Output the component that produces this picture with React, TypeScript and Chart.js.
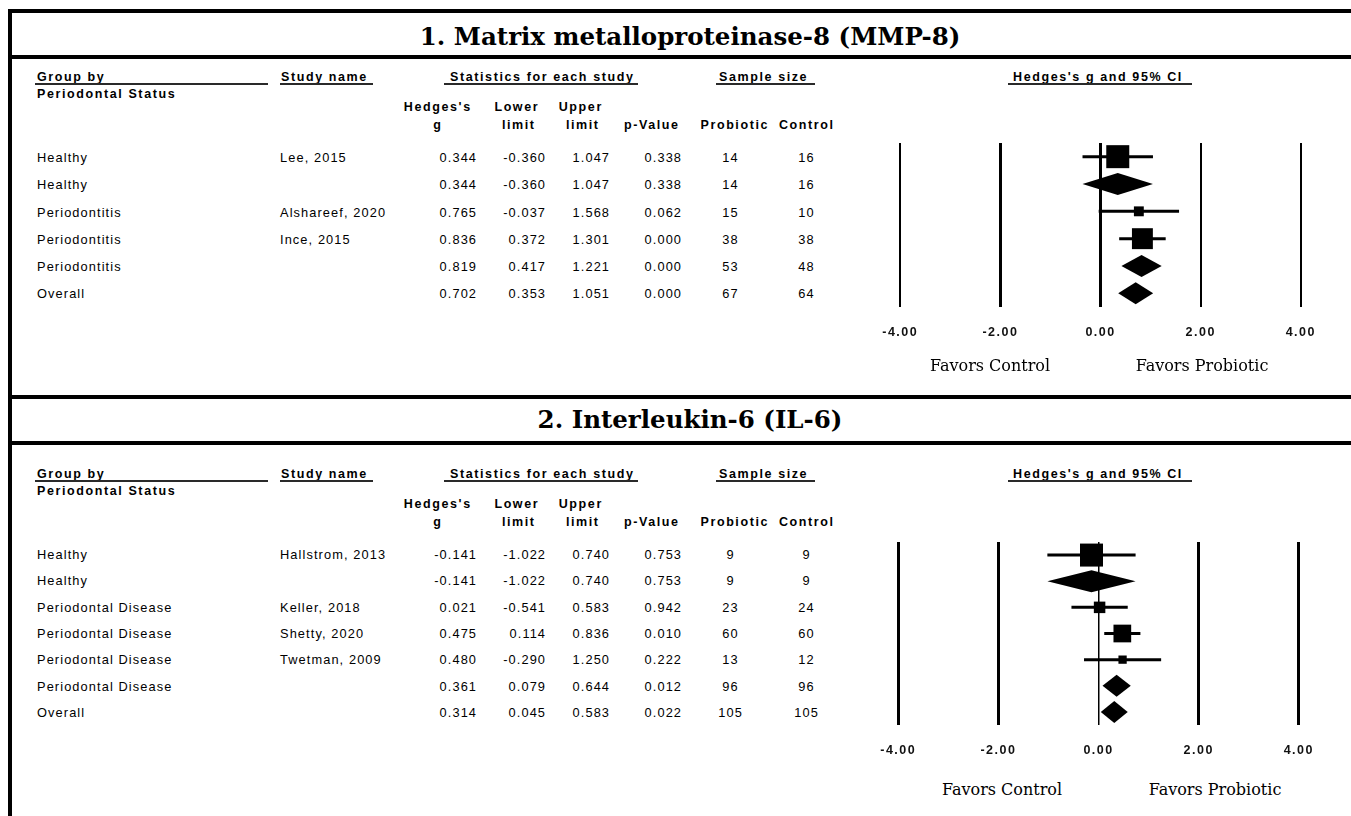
import React, { useEffect, useRef } from "react";
import { Chart, registerables } from "chart.js";

Chart.register(...registerables);

// ---------- Panel 1: MMP-8 ----------
const mmpTitle = "1. Matrix metalloproteinase-8 (MMP-8)";
const mmpGroup = ["Healthy", "Healthy", "Periodontitis", "Periodontitis", "Periodontitis", "Overall"];
const mmpStudy = ["Lee, 2015", "", "Alshareef, 2020", "Ince, 2015", "", ""];
const mmpG = [0.344, 0.344, 0.765, 0.836, 0.819, 0.702];
const mmpLower = [-0.36, -0.36, -0.037, 0.372, 0.417, 0.353];
const mmpUpper = [1.047, 1.047, 1.568, 1.301, 1.221, 1.051];
const mmpP = [0.338, 0.338, 0.062, 0.0, 0.0, 0.0];
const mmpProbiotic = [14, 14, 15, 38, 53, 67];
const mmpControl = [16, 16, 10, 38, 48, 64];
const mmpSummary = [false, true, false, false, true, true];
const mmpWeight = [1.0, 0, 0.43, 0.91, 0, 0];

// ---------- Panel 2: IL-6 ----------
const il6Title = "2. Interleukin-6 (IL-6)";
const il6Group = ["Healthy", "Healthy", "Periodontal Disease", "Periodontal Disease", "Periodontal Disease", "Periodontal Disease", "Overall"];
const il6Study = ["Hallstrom, 2013", "", "Keller, 2018", "Shetty, 2020", "Twetman, 2009", "", ""];
const il6G = [-0.141, -0.141, 0.021, 0.475, 0.48, 0.361, 0.314];
const il6Lower = [-1.022, -1.022, -0.541, 0.114, -0.29, 0.079, 0.045];
const il6Upper = [0.74, 0.74, 0.583, 0.836, 1.25, 0.644, 0.583];
const il6P = [0.753, 0.753, 0.942, 0.01, 0.222, 0.012, 0.022];
const il6Probiotic = [9, 9, 23, 60, 13, 96, 105];
const il6Control = [9, 9, 24, 60, 12, 96, 105];
const il6Summary = [false, true, false, false, false, true, true];
const il6Weight = [1.0, 0, 0.5, 0.77, 0.36, 0, 0];

// ---------- shared labels ----------
const axisMin = -4;
const axisMax = 4;
const axisStep = 2;
const favorsLeft = "Favors Control";
const favorsRight = "Favors Probiotic";

const SANS = '"Liberation Sans", Arial, Helvetica, sans-serif';
const SERIF = '"DejaVu Serif", "Liberation Serif", serif';

type TProps = {
  x: number;
  y: number;
  align?: "left" | "right" | "center";
  bold?: boolean;
  children: React.ReactNode;
};

function T({ x, y, align = "left", bold = false, children }: TProps) {
  const size = bold ? 12.5 : 12.8;
  const ls = bold ? 1.6 : 1.1;
  const style: React.CSSProperties = {
    position: "absolute",
    top: y - 7,
    lineHeight: "14px",
    height: 14,
    whiteSpace: "nowrap",
    fontFamily: SANS,
    fontSize: size,
    fontWeight: bold ? 700 : 400,
    letterSpacing: ls + "px",
    color: "#000",
  };
  if (align === "left") style.left = x;
  else if (align === "right") {
    style.left = x - 300 + ls;
    style.width = 300;
    style.textAlign = "right";
  } else {
    style.left = x - 150 + ls / 2;
    style.width = 300;
    style.textAlign = "center";
  }
  return <div style={style}>{children}</div>;
}

function HLine({ x1, x2, y, h, color = "#000" }: { x1: number; x2: number; y: number; h: number; color?: string }) {
  return <div style={{ position: "absolute", left: x1, top: y, width: x2 - x1, height: h, background: color }} />;
}

type ForestProps = {
  g: number[];
  lower: number[];
  upper: number[];
  summary: boolean[];
  weight: number[];
  left: number;
  areaTop: number;
  areaBottom: number;
  lineWidths: number[];
};

function Forest({ g, lower, upper, summary, weight, left, areaTop, areaBottom, lineWidths }: ForestProps) {
  const ref = useRef<HTMLCanvasElement | null>(null);
  const padTop = 10;
  const padSide = 30;
  const tickPad = 18;
  const axisFont = 12.5;
  // Chart.js reserves the tick padding twice for a horizontal axis
  const axisH = 2 * tickPad + axisFont * 1.2;
  const padBottom = 3;
  const height = Math.round(padTop + (areaBottom - areaTop) + axisH + padBottom);
  const width = 403 + 2 * padSide;

  useEffect(() => {
    if (!ref.current) return;
    const n = g.length;
    const studyIdx = g.map((_, i) => i).filter((i) => !summary[i]);
    const maxBox = 23;

    const forestPlugin = {
      id: "forest",
      beforeDraw(chart: any) {
        chart.ctx.letterSpacing = "1.5px";
      },
      beforeDatasetsDraw(chart: any) {
        const { ctx, scales } = chart;
        const xs = scales.x;
        const ys = scales.y;
        ctx.save();
        ctx.strokeStyle = "#000";
        ctx.lineWidth = 3;
        studyIdx.forEach((i) => {
          const y = ys.getPixelForValue(i + 1);
          ctx.beginPath();
          ctx.moveTo(xs.getPixelForValue(lower[i]), y);
          ctx.lineTo(xs.getPixelForValue(upper[i]), y);
          ctx.stroke();
        });
        ctx.restore();
      },
      afterDatasetsDraw(chart: any) {
        const { ctx, scales } = chart;
        const xs = scales.x;
        const ys = scales.y;
        ctx.save();
        ctx.fillStyle = "#000";
        g.forEach((v, i) => {
          if (!summary[i]) return;
          const y = ys.getPixelForValue(i + 1);
          const h = 11;
          ctx.beginPath();
          ctx.moveTo(xs.getPixelForValue(lower[i]), y);
          ctx.lineTo(xs.getPixelForValue(v), y - h);
          ctx.lineTo(xs.getPixelForValue(upper[i]), y);
          ctx.lineTo(xs.getPixelForValue(v), y + h);
          ctx.closePath();
          ctx.fill();
        });
        ctx.restore();
      },
    };

    const chart = new Chart(ref.current, {
      type: "scatter",
      data: {
        datasets: [
          {
            data: studyIdx.map((i) => ({ x: g[i], y: i + 1 })),
            pointStyle: "rect",
            pointRadius: studyIdx.map((i) => (maxBox * weight[i]) / (2 * Math.SQRT1_2)),
            pointHoverRadius: studyIdx.map((i) => (maxBox * weight[i]) / (2 * Math.SQRT1_2)),
            backgroundColor: "#000",
            borderWidth: 0,
            clip: false,
          },
        ],
      },
      options: {
        animation: false,
        responsive: false,
        events: [],
        layout: { autoPadding: false, padding: { top: padTop, left: padSide, right: padSide, bottom: padBottom } },
        plugins: { legend: { display: false }, tooltip: { enabled: false } },
        scales: {
          x: {
            type: "linear",
            min: axisMin,
            max: axisMax,
            border: { display: false },
            grid: {
              drawTicks: false,
              color: "#000",
              lineWidth: (c: any) => lineWidths[c.index] ?? 2,
            },
            ticks: {
              stepSize: axisStep,
              padding: tickPad,
              color: "#111",
              font: { family: SANS, size: axisFont, weight: "bold" },
              callback: (v: any) => Number(v).toFixed(2),
            },
          },
          y: {
            type: "linear",
            display: false,
            reverse: true,
            min: 0.5,
            max: n + 0.5,
          },
        },
      },
      plugins: [forestPlugin],
    } as any);
    return () => chart.destroy();
  }, []);

  return (
    <canvas
      ref={ref}
      width={width}
      height={height}
      style={{ position: "absolute", left: left - padSide, top: areaTop - padTop, width, height }}
    />
  );
}

type PanelProps = {
  off: number;
  rowTop: number;
  rowStep: number;
  group: string[];
  study: string[];
  g: number[];
  lower: number[];
  upper: number[];
  p: number[];
  probiotic: number[];
  control: number[];
};

function TablePanel({ off, rowTop, rowStep, group, study, g, lower, upper, p, probiotic, control }: PanelProps) {
  const ul = "#2a2a2a";
  return (
    <>
      <T x={37} y={76.5 + off} bold>Group by</T>
      <HLine x1={35} x2={268} y={83 + off} h={2} color={ul} />
      <T x={37} y={94 + off} bold>Periodontal Status</T>
      <T x={281} y={76.5 + off} bold>Study name</T>
      <HLine x1={280} x2={373} y={83 + off} h={2} color={ul} />
      <T x={450} y={76.5 + off} bold>Statistics for each study</T>
      <HLine x1={444} x2={638} y={83 + off} h={2} color={ul} />
      <T x={719} y={76.5 + off} bold>Sample size</T>
      <HLine x1={716} x2={815} y={83 + off} h={2} color={ul} />
      <T x={1013} y={76.5 + off} bold>Hedges's g and 95% CI</T>
      <HLine x1={1008} x2={1192} y={83 + off} h={2} color={ul} />

      <T x={437} y={107 + off} align="center" bold>Hedges's</T>
      <T x={437} y={125 + off} align="center" bold>g</T>
      <T x={516} y={107 + off} align="center" bold>Lower</T>
      <T x={518} y={125 + off} align="center" bold>limit</T>
      <T x={580} y={107 + off} align="center" bold>Upper</T>
      <T x={582} y={125 + off} align="center" bold>limit</T>
      <T x={651} y={125 + off} align="center" bold>p-Value</T>
      <T x={734} y={125 + off} align="center" bold>Probiotic</T>
      <T x={806} y={125 + off} align="center" bold>Control</T>

      {group.map((gr, i) => {
        const y = rowTop + i * rowStep;
        return (
          <React.Fragment key={i}>
            <T x={37} y={y}>{gr}</T>
            {study[i] ? <T x={280} y={y}>{study[i]}</T> : null}
            <T x={476} y={y} align="right">{g[i].toFixed(3)}</T>
            <T x={545} y={y} align="right">{lower[i].toFixed(3)}</T>
            <T x={609} y={y} align="right">{upper[i].toFixed(3)}</T>
            <T x={681} y={y} align="right">{p[i].toFixed(3)}</T>
            <T x={730} y={y} align="center">{probiotic[i]}</T>
            <T x={806} y={y} align="center">{control[i]}</T>
          </React.Fragment>
        );
      })}
    </>
  );
}

function Title({ y, children }: { y: number; children: React.ReactNode }) {
  return (
    <div
      style={{
        position: "absolute",
        left: 0,
        width: 1380,
        top: y,
        lineHeight: "30px",
        textAlign: "center",
        fontFamily: SERIF,
        fontWeight: 700,
        fontSize: 24.5,
        color: "#000",
        whiteSpace: "nowrap",
      }}
    >
      {children}
    </div>
  );
}

function Favors({ x, y, children }: { x: number; y: number; children: React.ReactNode }) {
  return (
    <div
      style={{
        position: "absolute",
        left: x - 150,
        width: 300,
        top: y - 9.5,
        lineHeight: "18px",
        textAlign: "center",
        fontFamily: SERIF,
        fontSize: 16,
        color: "#000",
        whiteSpace: "nowrap",
      }}
    >
      {children}
    </div>
  );
}

export default function App() {
  return (
    <div
      style={{
        position: "absolute",
        left: 0,
        top: 0,
        width: 1351,
        height: 816,
        overflow: "hidden",
        background: "#fff",
      }}
    >
      {/* frame */}
      <div style={{ position: "absolute", left: 8, top: 9, width: 4, height: 807, background: "#000" }} />
      <HLine x1={8} x2={1351} y={9} h={4} />
      <HLine x1={8} x2={1351} y={55} h={4} />
      <HLine x1={8} x2={1351} y={395} h={4} />
      <HLine x1={8} x2={1351} y={441} h={4} />

      <Title y={22}>{mmpTitle}</Title>
      <Title y={405}>{il6Title}</Title>

      <TablePanel
        off={0}
        rowTop={158}
        rowStep={27.25}
        group={mmpGroup}
        study={mmpStudy}
        g={mmpG}
        lower={mmpLower}
        upper={mmpUpper}
        p={mmpP}
        probiotic={mmpProbiotic}
        control={mmpControl}
      />
      <Forest
        g={mmpG}
        lower={mmpLower}
        upper={mmpUpper}
        summary={mmpSummary}
        weight={mmpWeight}
        left={898}
        areaTop={143}
        areaBottom={307}
        lineWidths={[2, 3, 3, 2, 2]}
      />
      <Favors x={990} y={366}>{favorsLeft}</Favors>
      <Favors x={1202} y={366}>{favorsRight}</Favors>

      <TablePanel
        off={397}
        rowTop={555}
        rowStep={26.3}
        group={il6Group}
        study={il6Study}
        g={il6G}
        lower={il6Lower}
        upper={il6Upper}
        p={il6P}
        probiotic={il6Probiotic}
        control={il6Control}
      />
      <Forest
        g={il6G}
        lower={il6Lower}
        upper={il6Upper}
        summary={il6Summary}
        weight={il6Weight}
        left={896}
        areaTop={542}
        areaBottom={725}
        lineWidths={[3, 3, 1.5, 3, 3]}
      />
      <Favors x={1002} y={790}>{favorsLeft}</Favors>
      <Favors x={1215} y={790}>{favorsRight}</Favors>
    </div>
  );
}
